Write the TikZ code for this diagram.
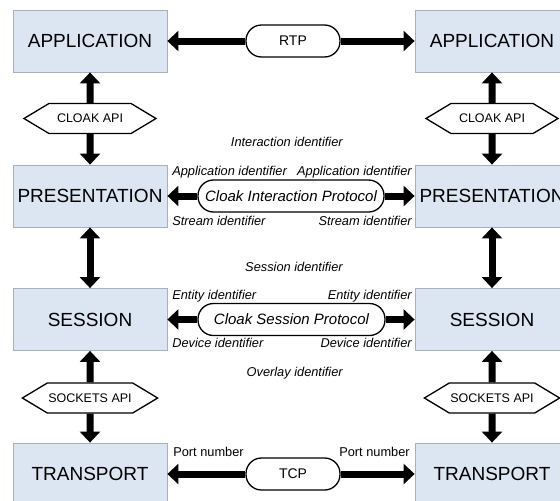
\documentclass[tikz,border=0pt]{standalone}
\usepackage{fontspec}
\setmainfont{Liberation Sans}
\usepackage{xcolor}
\usetikzlibrary{arrows.meta,shapes.symbols}

\definecolor{capafill}{RGB}{220,230,242}
\definecolor{capaborde}{RGB}{168,176,190}

\begin{document}
\begin{tikzpicture}[x=1pt,y=-1pt,node distance=402pt,semithick]
\tikzstyle{capa}=[draw=capaborde,fill=capafill,line width=0.8pt,minimum width=154pt,minimum height=62pt,font=\fontsize{19}{22}\selectfont]
\tikzstyle{proto}=[draw,fill=white,line width=1.3pt,rounded corners=15.5pt,minimum height=32pt,inner sep=0pt,font=\fontsize{15}{18}\selectfont\itshape]
\tikzstyle{api}=[draw,fill=white,line width=1.3pt,signal,signal to=west and east,signal pointer angle=62,minimum width=132pt,minimum height=30pt,inner sep=1pt,font=\fontsize{12.5}{14}\selectfont]
\tikzstyle{ident}=[inner sep=0pt,font=\fontsize{12.8}{15}\selectfont\itshape]
\tikzstyle{flecha}=[line width=7pt,-{Triangle[length=11pt,width=20pt]}]
\tikzstyle{doble}=[line width=7pt,{Triangle[length=11pt,width=20pt]}-{Triangle[length=11pt,width=20pt]}]
\clip (0,0) rectangle (560,501);
%capas
\node[capa] (app1) at (90,41) {APPLICATION};
\node[capa] (app2) [right of=app1] {APPLICATION};
\node[capa] (pres1) at (90,196) {PRESENTATION};
\node[capa] (pres2) [right of=pres1] {PRESENTATION};
\node[capa] (ses1) at (90,319.5) {SESSION};
\node[capa] (ses2) [right of=ses1] {SESSION};
\node[capa] (tra1) at (90,474) {TRANSPORT};
\node[capa] (tra2) [right of=tra1] {TRANSPORT};
%interfaces
\node[api] (capi1) at (90,118.5) {CLOAK API};
\node[api] (capi2) [right of=capi1] {CLOAK API};
\node[api] (sapi1) at (90,398) {SOCKETS API};
\node[api] (sapi2) [right of=sapi1] {SOCKETS API};
%protocolos
\node[proto,minimum width=94pt,font=\fontsize{14}{17}\selectfont] (rtp) at (293,41) {RTP};
\node[proto,minimum width=186pt] (cip) at (291,196) {Cloak Interaction Protocol};
\node[proto,minimum width=187pt] (csp) at (291.5,319.5) {Cloak Session Protocol};
\node[proto,minimum width=94pt,font=\fontsize{14}{17}\selectfont] (tcp) at (293,474) {TCP};
%identificadores
\node[ident,anchor=east] (iid) at (343,142) {Interaction identifier};
\node[ident,anchor=east] (sid) at (343,267) {Session identifier};
\node[ident,anchor=east] (oid) at (343,373) {Overlay identifier};
\node[ident,anchor=west] (aid1) at (172,172) {Application identifier};
\node[ident,anchor=east] (aid2) at (412,172) {Application identifier};
\node[ident,anchor=west] (stid1) at (172,221) {Stream identifier};
\node[ident,anchor=east] (stid2) at (412,221) {Stream identifier};
\node[ident,anchor=west] (eid1) at (172,296) {Entity identifier};
\node[ident,anchor=east] (eid2) at (412,296) {Entity identifier};
\node[ident,anchor=west] (did1) at (172,343) {Device identifier};
\node[ident,anchor=east] (did2) at (412,343) {Device identifier};
\node[ident,anchor=west,font=\fontsize{12.8}{15}\selectfont] (pn1) at (173,452) {Port number};
\node[ident,anchor=east,font=\fontsize{12.8}{15}\selectfont] (pn2) at (410,452) {Port number};
%conexiones
\path 	(rtp)	edge[flecha]	(app1)
				edge[flecha]	(app2)
		(cip)	edge[flecha]	(pres1)
				edge[flecha]	(pres2)
		(csp)	edge[flecha]	(ses1)
				edge[flecha]	(ses2)
		(tcp)	edge[flecha]	(tra1)
				edge[flecha]	(tra2)
		(capi1)	edge[flecha]	(app1)
				edge[flecha]	(pres1)
		(capi2)	edge[flecha]	(app2)
				edge[flecha]	(pres2)
		(sapi1)	edge[flecha]	(ses1)
				edge[flecha]	(tra1)
		(sapi2)	edge[flecha]	(ses2)
				edge[flecha]	(tra2)
		(pres1)	edge[doble]		(ses1)
		(pres2)	edge[doble]		(ses2);
\end{tikzpicture}
\end{document}
